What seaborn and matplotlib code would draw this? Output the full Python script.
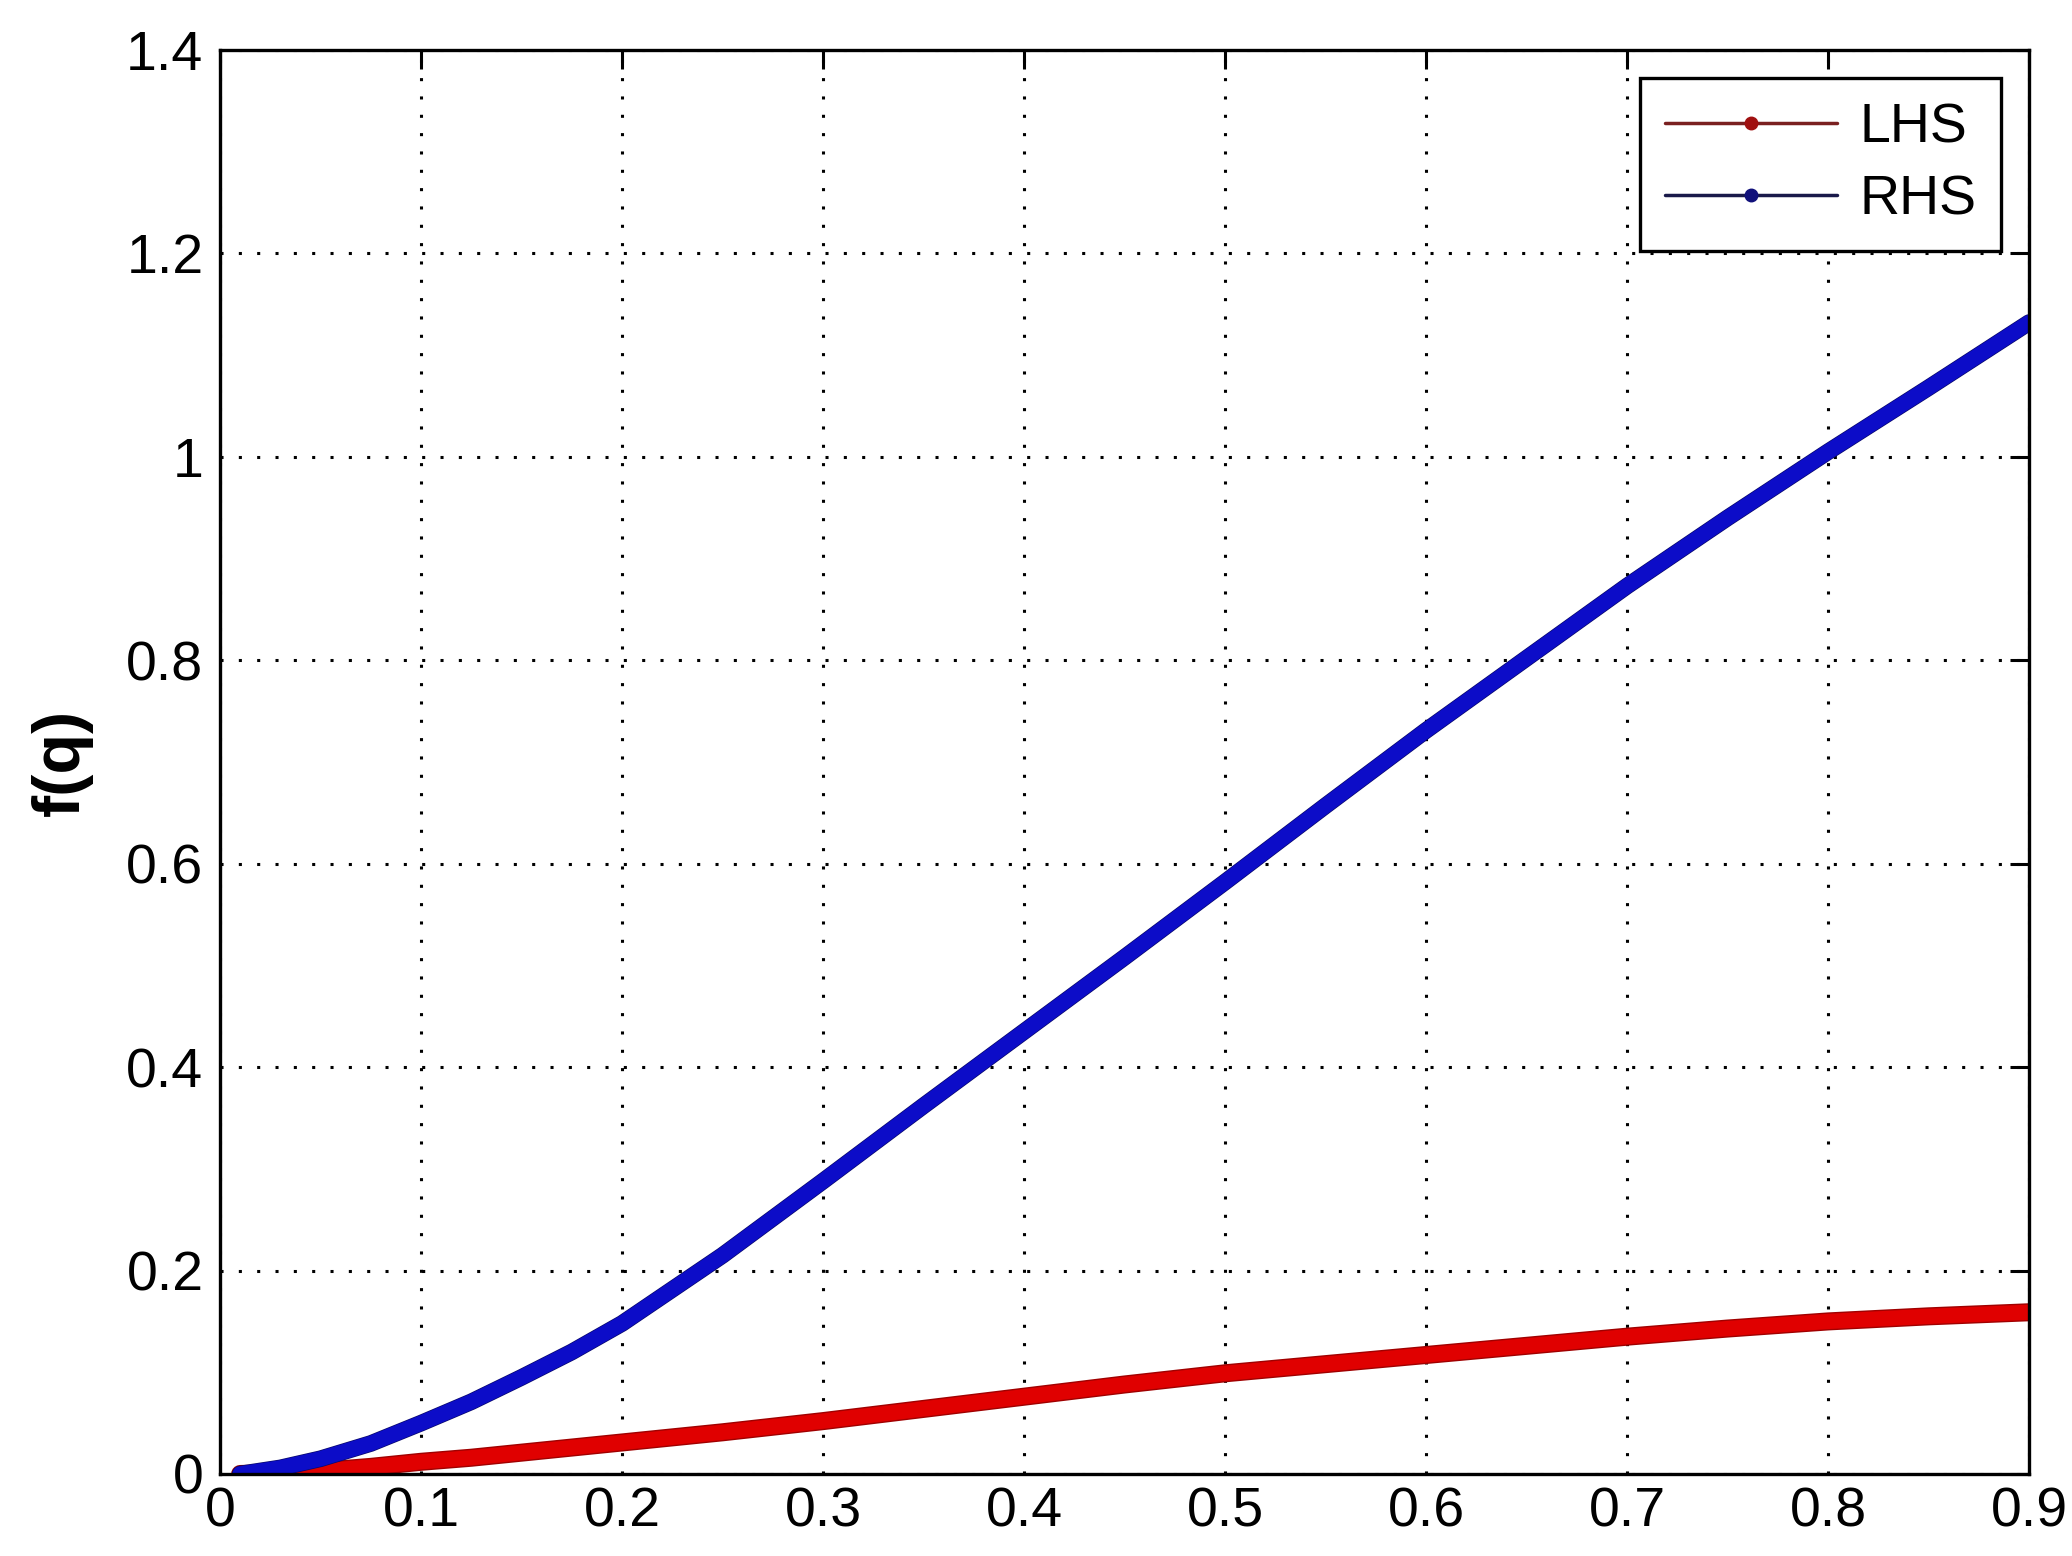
import matplotlib
matplotlib.use("Agg")
from matplotlib import pyplot as plt
from matplotlib.lines import Line2D
from matplotlib.ticker import FormatStrFormatter
import matplotlib.patheffects as pe
import pandas as pd
import seaborn as sns

# values
q = [0.01, 0.03, 0.05, 0.075, 0.10, 0.125, 0.15, 0.175, 0.20, 0.25, 0.30, 0.35, 0.40,
     0.45, 0.50, 0.55, 0.60, 0.65, 0.70, 0.75, 0.80, 0.85, 0.90]
lhs = [0.000, 0.001, 0.003, 0.007, 0.012, 0.016, 0.021, 0.026, 0.031, 0.041, 0.052,
       0.064, 0.076, 0.088, 0.099, 0.108, 0.117, 0.126, 0.135, 0.143, 0.150, 0.155, 0.159]
rhs = [0.000, 0.006, 0.015, 0.030, 0.050, 0.071, 0.095, 0.120, 0.148, 0.215, 0.288,
       0.362, 0.435, 0.508, 0.582, 0.657, 0.731, 0.802, 0.873, 0.940, 1.005, 1.068, 1.132]

xticks = [0, 0.1, 0.2, 0.3, 0.4, 0.5, 0.6, 0.7, 0.8, 0.9]
yticks = [0, 0.2, 0.4, 0.6, 0.8, 1.0, 1.2, 1.4]

RED = "#e00000"
BLUE = "#0c0cc8"

df = pd.concat([
    pd.DataFrame({"q": q, "f": lhs, "side": "LHS"}),
    pd.DataFrame({"q": q, "f": rhs, "side": "RHS"}),
])

sns.set_style("white")
plt.rcParams["font.family"] = ["Liberation Sans", "DejaVu Sans"]
plt.rcParams["text.color"] = "black"

fig = plt.figure(figsize=(20.72, 15.56), dpi=100)
ax = fig.add_axes([0.1062, 0.0527, 0.8731, 0.9152])

sns.lineplot(data=df, x="q", y="f", hue="side", palette={"LHS": RED, "RHS": BLUE},
             linewidth=11, legend=False, ax=ax, solid_capstyle="round")
ax.lines[0].set_path_effects([pe.Stroke(linewidth=13, foreground="#a00000"), pe.Normal()])
ax.lines[1].set_path_effects([pe.Stroke(linewidth=12, foreground="#08086a"), pe.Normal()])

ax.set_xlim(0, 0.9)
ax.set_ylim(0, 1.4)
ax.set_xticks(xticks)
ax.set_yticks(yticks)
ax.xaxis.set_major_formatter(FormatStrFormatter("%g"))
ax.yaxis.set_major_formatter(FormatStrFormatter("%g"))
ax.tick_params(direction="in", length=14, width=2.2, labelsize=40,
               top=True, right=True, colors="black", labelcolor="black")
ax.tick_params(axis="x", pad=9)
ax.tick_params(axis="y", pad=12)
ax.grid(True, color="black", linestyle=(0, (1, 5)), linewidth=2.2)
for s in ax.spines.values():
    s.set_linewidth(2.4)
    s.set_color("black")
    s.set_visible(True)

ax.set_xlabel("")
ax.set_ylabel("f(q)", fontsize=48, fontweight="bold", labelpad=24, color="black")

handles = [
    Line2D([], [], color="#7a2020", lw=2.5, marker="o", markersize=9,
           markerfacecolor="#a01010", markeredgecolor="#a01010"),
    Line2D([], [], color="#1a1a4a", lw=2.5, marker="o", markersize=9,
           markerfacecolor="#10107a", markeredgecolor="#10107a"),
]
leg = ax.legend(handles, ["LHS", "RHS"], loc="upper right", fontsize=40,
                frameon=True, fancybox=False, edgecolor="black", framealpha=1,
                handlelength=3.1, handletextpad=0.4, borderpad=0.45,
                labelspacing=0.35, borderaxespad=0.5, labelcolor="black")
leg.get_frame().set_linewidth(2.4)

fig.savefig("out.png", dpi=100)
